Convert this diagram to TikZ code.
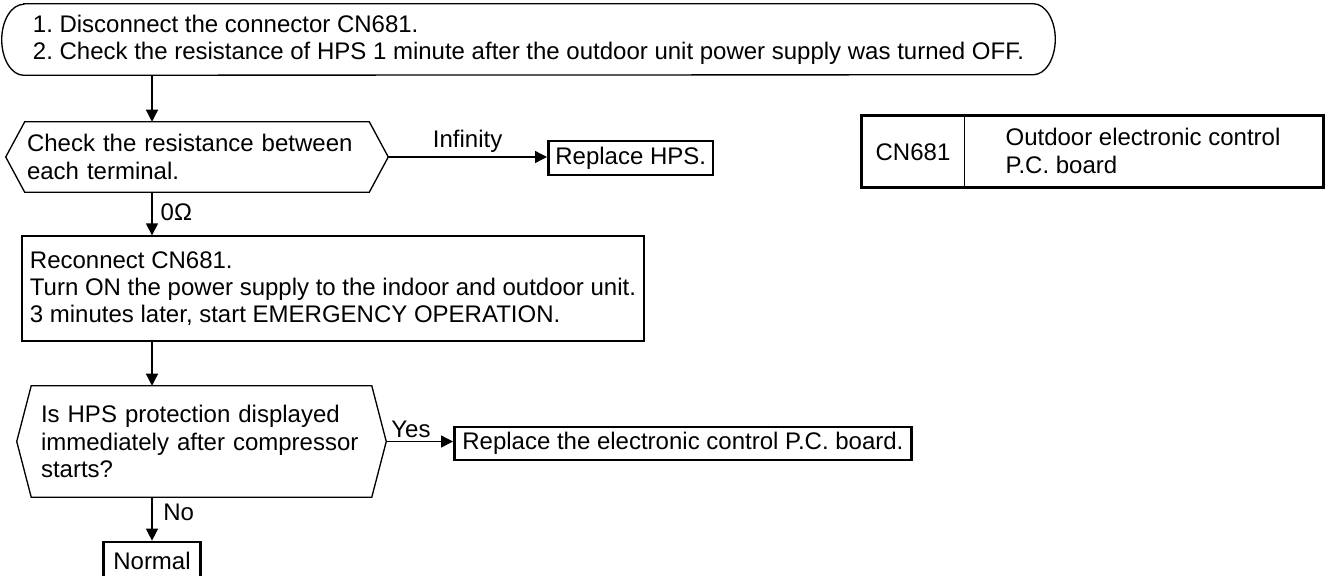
\documentclass[tikz,border=0pt]{standalone}
\usepackage{fontspec}
\setmainfont{Liberation Sans}
\usetikzlibrary{arrows.meta}
\newcommand{\pxl}{0.75pt}
\newcommand{\hexdraw}[2]{\draw[line width=1pt] ([xshift=#2]#1.north west) -- ([xshift=-#2]#1.north east) -- (#1.east) -- ([xshift=-#2]#1.south east) -- ([xshift=#2]#1.south west) -- (#1.west) -- cycle;}
\begin{document}
\begin{tikzpicture}[x=0.75pt, y=-0.75pt,
  font=\fontsize{18pt}{20.5pt}\selectfont\frenchspacing,
  arr/.style={-{Triangle[length=9pt,width=9pt]}, line width=1pt},
  shp/.style={draw, line width=1pt, inner sep=0pt},
  hexnode/.style={inner ysep=0pt, align=left},
  bold/.style={draw, line width=2pt, inner ysep=0pt},
  lbl/.style={inner sep=0pt}]
\useasboundingbox (0,0) rectangle (1333,575);

% start box (terminal with curved ends)
\node[inner sep=0pt, minimum width=1053*\pxl, minimum height=71*\pxl, align=left] (top) at (528.5,39.5)
  {1. Disconnect the connector CN681.\\2. Check the resistance of HPS 1 minute after the outdoor unit power supply was turned OFF.};
\draw[line width=1pt] ([xshift=22*\pxl]top.north west) -- ([xshift=-22*\pxl]top.north east)
  arc[start angle=90, end angle=-90, x radius=22*\pxl, y radius=35.5*\pxl]
  -- ([xshift=22*\pxl]top.south west)
  arc[start angle=270, end angle=90, x radius=22*\pxl, y radius=35.5*\pxl] -- cycle;

% decision 1
\node[hexnode, minimum width=382*\pxl, minimum height=70*\pxl, inner xsep=21*\pxl, text width=340*\pxl] (hex1) at (197,157)
  {Check the resistance between\\each terminal.};
\hexdraw{hex1}{19*\pxl}

\node[bold, anchor=west, minimum height=34*\pxl, inner xsep=7*\pxl] (rhps) at (547,158) {Replace HPS.};

% process box
\node[shp, minimum width=622*\pxl, minimum height=105*\pxl, align=left] (recon) at (333,288.5)
  {Reconnect CN681.\\Turn ON the power supply to the indoor and outdoor unit.\\3 minutes later, start EMERGENCY OPERATION.};

% decision 2
\node[hexnode, minimum width=369*\pxl, minimum height=111*\pxl, inner xsep=24*\pxl, text width=321*\pxl] (hex2) at (201.5,441.5)
  {Is HPS protection displayed\\immediately after compressor\\starts?};
\hexdraw{hex2}{14.5*\pxl}

\node[bold, anchor=west, minimum height=33*\pxl, inner xsep=8*\pxl] (rpcb) at (453,443.5) {Replace the electronic control P.C. board.};

\node[bold, minimum height=38*\pxl, inner xsep=9.5*\pxl] (normal) at (152,561) {Normal};

% table
\node[minimum width=102*\pxl, minimum height=72*\pxl, inner sep=0pt] (cellA) at (913,152) {CN681};
\node[minimum width=361*\pxl, minimum height=72*\pxl, inner sep=0pt, align=left] (cellB) at (1143,151) {Outdoor electronic control\\P.C. board};
\draw[line width=2pt] (cellA.north west) rectangle (cellB.south east);
\draw[line width=0.8pt] (cellA.north east) -- (cellA.south east);

% connectors
\draw[arr] (top.south -| normal) -- (hex1.north -| normal);
\draw[arr] (hex1.east) -- (hex1.east -| rhps.west) node[lbl, above, midway, yshift=3pt] {Infinity};
\draw[arr] (hex1.south -| normal) -- (recon.north -| normal) node[lbl, right, pos=0.47, xshift=6pt] {0Ω};
\draw[arr] (recon.south -| normal) -- (hex2.north -| normal);
\draw[arr] (hex2.east) -- (hex2.east -| rpcb.west) node[lbl, above, pos=0.37, yshift=2.6pt] {Yes};
\draw[arr] (hex2.south -| normal) -- (normal.north) node[lbl, right, pos=0.34, xshift=8pt] {No};
\end{tikzpicture}
\end{document}
